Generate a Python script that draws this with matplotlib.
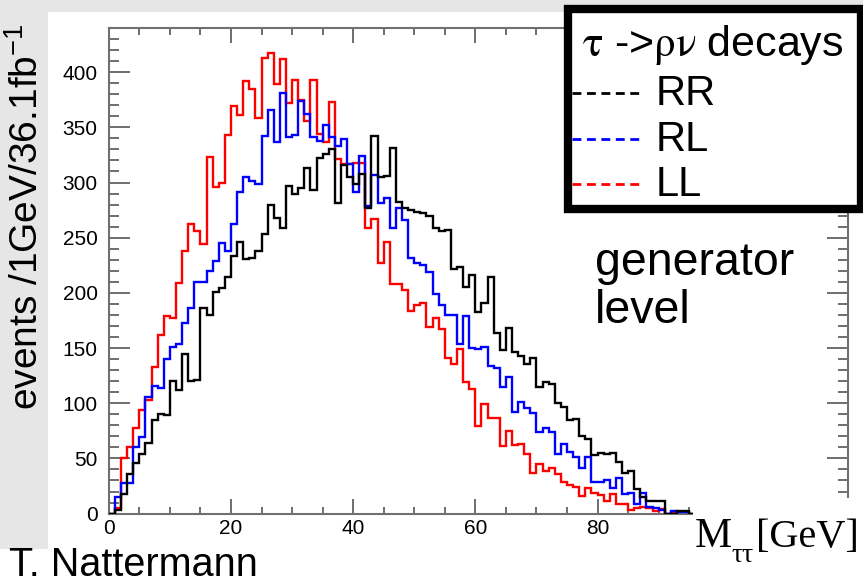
import numpy as np
import matplotlib.pyplot as plt
from matplotlib.patches import Rectangle
from matplotlib.lines import Line2D
from matplotlib.ticker import MultipleLocator

plt.rcParams['font.family'] = ['Liberation Sans', 'DejaVu Sans']
plt.rcParams['mathtext.fontset'] = 'custom'
plt.rcParams['mathtext.rm'] = 'Liberation Sans'

# events per 1 GeV bin, M_tautau from 0 to 100 GeV
rr = [0, 3, 18, 36, 46, 54, 64, 85, 90, 89,
      120, 112, 145, 120, 121, 186, 180, 201, 204, 214,
      233, 246, 231, 232, 238, 253, 280, 268, 259, 297,
      290, 295, 313, 293, 322, 326, 330, 281, 316, 305,
      299, 308, 277, 342, 305, 306, 331, 282, 277, 275,
      273, 272, 270, 259, 256, 257, 222, 223, 205, 216,
      183, 191, 214, 164, 148, 168, 146, 143, 136, 141,
      115, 119, 117, 100, 97, 85, 86, 70, 68, 53,
      55, 54, 55, 47, 37, 39, 22, 15, 11, 11,
      11, 0, 0, 2, 2, 0, 0, 0, 0, 0]
rl = [0, 15, 28, 28, 60, 69, 106, 116, 114, 140,
      151, 154, 173, 186, 210, 210, 220, 229, 245, 238,
      262, 291, 305, 301, 299, 342, 366, 337, 381, 341,
      343, 374, 362, 341, 338, 352, 341, 333, 339, 317,
      291, 324, 279, 307, 281, 286, 259, 277, 266, 232,
      227, 225, 219, 199, 189, 180, 180, 154, 179, 150,
      149, 151, 134, 132, 115, 124, 92, 101, 96, 91,
      74, 78, 74, 54, 63, 56, 51, 41, 51, 29,
      29, 30, 23, 32, 18, 19, 9, 19, 6, 5,
      3, 0, 2, 1, 1, 0, 0, 0, 0, 0]
ll = [0, 5, 50, 60, 78, 94, 103, 133, 162, 179,
      177, 209, 238, 262, 256, 244, 323, 296, 300, 343,
      369, 361, 392, 385, 358, 413, 417, 389, 412, 372,
      393, 375, 356, 393, 344, 337, 373, 321, 317, 317,
      318, 318, 259, 267, 227, 246, 208, 208, 203, 184,
      189, 191, 169, 177, 167, 141, 136, 149, 119, 113,
      79, 99, 87, 87, 61, 75, 62, 63, 54, 37,
      45, 39, 41, 36, 29, 26, 24, 16, 23, 19,
      17, 11, 18, 9, 9, 3, 5, 6, 5, 2,
      4, 0, 1, 0, 0, 0, 0, 0, 0, 0]
edges = np.arange(0, 101)

names = ["RR", "RL", "LL"]
series = [rr, rl, ll]
colors = ["black", "#0000ff", "#ff0000"]
xticks = [0, 20, 40, 60, 80, 100, 120]
xticklabels = ["0", "20", "40", "60", "80", "", ""]  # 100/120 sit under the axis title

W, H = 863, 583


def fx(px):
    return px / W


def fy(py):
    return 1 - py / H


fig = plt.figure(figsize=(W / 100, H / 100), dpi=100, facecolor='#e6e6e6')
fig.add_artist(Rectangle((fx(48), 0), 1 - fx(48), fy(12), transform=fig.transFigure,
                         facecolor='white', edgecolor='none', zorder=-10))
fig.add_artist(Rectangle((0, 0), fx(48), fy(549), transform=fig.transFigure,
                         facecolor='white', edgecolor='none', zorder=-10))

ax = fig.add_axes([fx(108.8), fy(513.6), fx(848) - fx(108.8), (513.6 - 28) / H])
ax.set_facecolor('white')

# red first, black drawn on top
for vals, col, z in zip(series[::-1], colors[::-1], [2, 3, 4]):
    ax.stairs(vals, edges, color=col, lw=1.7, baseline=0, zorder=z)

ax.set_xlim(0, 121)
ax.set_ylim(0, 440)
ax.set_xticks(xticks, labels=xticklabels)
ax.xaxis.set_minor_locator(MultipleLocator(5))
ax.yaxis.set_major_locator(MultipleLocator(50))
ax.yaxis.set_minor_locator(MultipleLocator(10))
ax.tick_params(which='both', direction='in', top=True, right=True, color='#555555',
               width=1.2, labelsize=15)
ax.tick_params(axis='x', which='major', length=11, pad=4)
ax.tick_params(axis='x', which='minor', length=5)
ax.tick_params(axis='y', which='major', length=15, pad=8)
ax.tick_params(axis='y', which='minor', length=7.5)
for sp in ax.spines.values():
    sp.set_color('#707070')
    sp.set_linewidth(1.5)

# y label
fig.text(fx(27), fy(410), r"events /1GeV/36.1fb$^{\mathrm{-1}}$", rotation=90,
         ha='center', va='bottom', fontsize=28)

# legend box
fig.add_artist(Rectangle((fx(568), fy(209)), fx(861) - fx(568), fy(9) - fy(209),
                         transform=fig.transFigure, facecolor='white', edgecolor='black',
                         lw=6, zorder=5))
fig.text(fx(582), fy(56), r"$\mathrm{\tau}$ ->$\mathrm{\rho\nu}$ decays",
         math_fontfamily='stix', fontsize=31, va='baseline', zorder=6)
for name, col, ly, ty in zip(names, colors, [93, 139, 184], [105, 151, 196]):
    fig.add_artist(Line2D([fx(572), fx(641)], [fy(ly), fy(ly)], transform=fig.transFigure,
                          color=col, lw=2, linestyle=(0, (3.2, 2.0)), zorder=6))
    fig.text(fx(656), fy(ty), name, fontsize=30, va='baseline', zorder=6)

fig.text(fx(595), fy(275), "generator", fontsize=33.5, va='baseline')
fig.text(fx(595), fy(323), "level", fontsize=33.5, va='baseline')

# x label
fig.add_artist(Rectangle((fx(693), fy(555)), 1 - fx(693), fy(498) - fy(555),
                         transform=fig.transFigure, facecolor='white', edgecolor='none',
                         zorder=5))
fig.text(fx(695), fy(547), "M", family='Liberation Serif', fontsize=30, va='baseline', zorder=6)
fig.text(fx(731), fy(562), "ττ", family='Liberation Serif', fontsize=20, va='baseline', zorder=6)
fig.text(fx(756), fy(547), "[GeV]", family='Liberation Serif', fontsize=29, va='baseline', zorder=6)

fig.text(fx(9), fy(576), "T. Nattermann", fontsize=28.5, va='baseline')

fig.savefig("out.png", dpi=100, facecolor=fig.get_facecolor())
